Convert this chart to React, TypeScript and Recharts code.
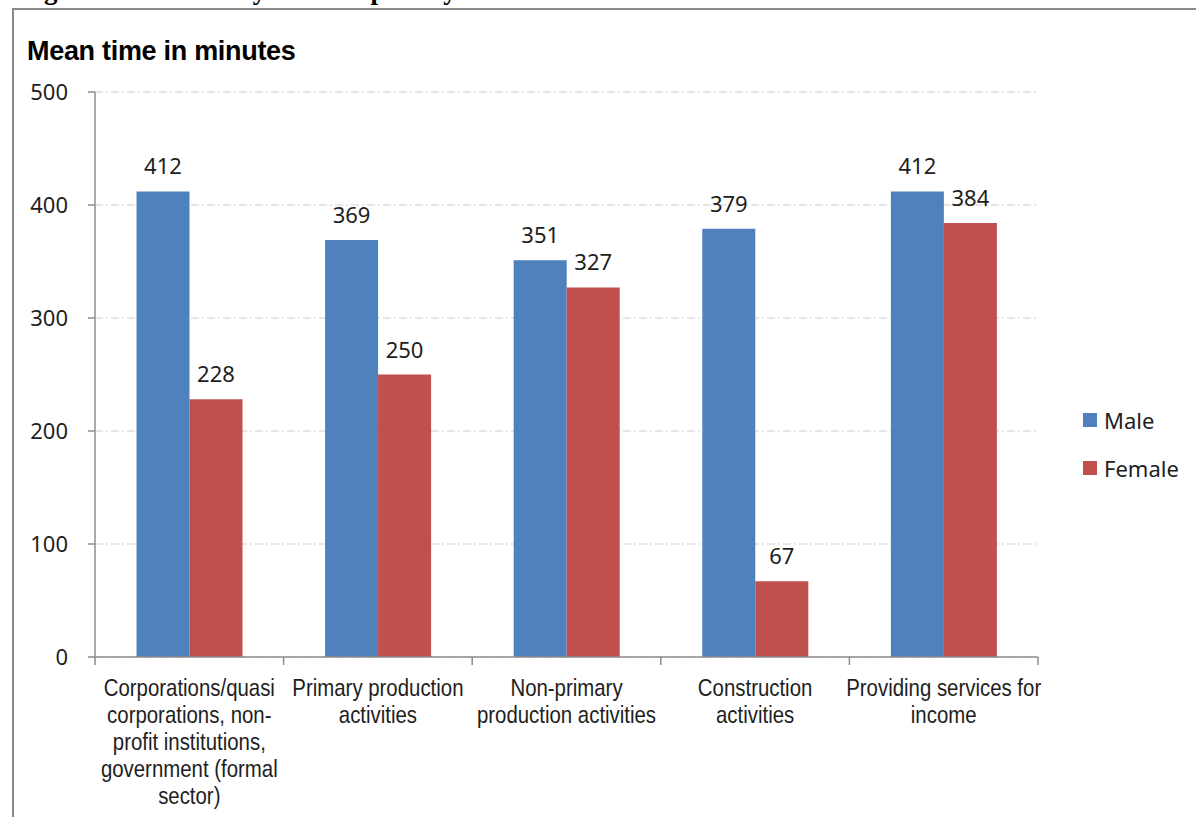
import React from 'react';
import { BarChart, Bar, XAxis, YAxis, CartesianGrid, LabelList } from 'recharts';

// Mean time in minutes, by sector of SNA work
const categories = [
  ['Corporations/quasi', 'corporations, non-', 'profit institutions,', 'government (formal', 'sector)'],
  ['Primary production', 'activities'],
  ['Non-primary', 'production activities'],
  ['Construction', 'activities'],
  ['Providing services for', 'income'],
];
const male = [412, 369, 351, 379, 412];
const female = [228, 250, 327, 67, 384];
const yTicks = [0, 100, 200, 300, 400, 500];

const MALE_COLOR = '#4F81BD';
const FEMALE_COLOR = '#C0504D';
const AXIS_COLOR = '#8c8c8c';
const TEXT_COLOR = '#1e1e1e';
const NUM_FONT = '"Noto Sans", sans-serif';
const NARROW_FONT = '"Liberation Sans", Arial, sans-serif';

const W = 1196;
const H = 817;
const MARGIN = { top: 92, right: 158, left: 35, bottom: 10 };
const Y_AXIS_W = 60;
const PLOT_W = W - MARGIN.left - Y_AXIS_W - MARGIN.right;
const HALF_BAND = PLOT_W / categories.length / 2;

const data = categories.map((lines, i) => ({
  name: lines.join(' '),
  Male: male[i],
  Female: female[i],
}));

// category label (squeezed to a narrow face) plus tick marks on the band edges
const CategoryTick = (props: any) => {
  const { x, y, index } = props;
  const lines: string[] = categories[index] || [];
  const axisY = y - 8;
  return (
    <g>
      <line x1={x - HALF_BAND} x2={x - HALF_BAND} y1={axisY} y2={axisY + 8} stroke={AXIS_COLOR} strokeWidth={1.5} />
      {index === categories.length - 1 && (
        <line x1={x + HALF_BAND} x2={x + HALF_BAND} y1={axisY} y2={axisY + 8} stroke={AXIS_COLOR} strokeWidth={1.5} />
      )}
      <g transform={`translate(${x},${axisY + 39}) scale(0.85,1)`}>
        <text x={0} y={0} textAnchor="middle" fill={TEXT_COLOR} fontFamily={NARROW_FONT} fontSize={24}>
          {lines.map((l, k) => (
            <tspan key={k} x={0} dy={k === 0 ? 0 : 27}>
              {l}
            </tspan>
          ))}
        </text>
      </g>
    </g>
  );
};

const legendItems = [
  ['Male', MALE_COLOR],
  ['Female', FEMALE_COLOR],
];

export default function App() {
  return (
    <div style={{ position: 'absolute', left: 0, top: 0, width: W, height: H, overflow: 'hidden', background: '#fff' }}>
      {/* caption above the framed chart, mostly cut off */}
      <div style={{ position: 'absolute', left: 0, top: 0, width: W, height: 8, overflow: 'hidden' }}>
        <div
          style={{
            position: 'absolute',
            left: 20,
            top: -25,
            fontFamily: '"Liberation Serif", serif',
            fontWeight: 'bold',
            fontSize: 27,
            whiteSpace: 'nowrap',
            color: '#000',
          }}
        >
          Figure 6.3: Summary of time spent by actors involved in SNA work
        </div>
      </div>
      <div
        style={{
          position: 'absolute',
          left: 12,
          top: 8,
          width: W,
          height: H,
          borderLeft: '2px solid #8a8a8a',
          borderTop: '2px solid #8a8a8a',
        }}
      />
      <div
        style={{
          position: 'absolute',
          left: 27,
          top: 36,
          fontFamily: '"Liberation Sans", Arial, sans-serif',
          fontWeight: 'bold',
          fontSize: 27,
          letterSpacing: -0.3,
          color: '#000',
        }}
      >
        Mean time in minutes
      </div>
      <div style={{ position: 'absolute', left: 0, top: 0 }}>
        <BarChart width={W} height={H} data={data} margin={MARGIN} barCategoryGap="22%" barGap={0}>
          <CartesianGrid vertical={false} stroke="#cfcfcf" strokeDasharray="8 3 2 3" />
          <XAxis
            dataKey="name"
            interval={0}
            height={H - MARGIN.top - MARGIN.bottom - 565}
            axisLine={{ stroke: AXIS_COLOR, strokeWidth: 1.5 }}
            tickLine={false}
            tickSize={8}
            tickMargin={0}
            tick={<CategoryTick />}
          />
          <YAxis
            width={Y_AXIS_W}
            domain={[0, 500]}
            ticks={yTicks}
            interval={0}
            tickSize={7}
            tickMargin={20}
            axisLine={{ stroke: AXIS_COLOR, strokeWidth: 1.5 }}
            tickLine={{ stroke: AXIS_COLOR, strokeWidth: 1.5 }}
            tick={{ fill: TEXT_COLOR, fontSize: 22, fontFamily: NUM_FONT }}
          />
          <Bar dataKey="Male" fill={MALE_COLOR} isAnimationActive={false}>
            <LabelList dataKey="Male" position="top" offset={17} fill={TEXT_COLOR} fontSize={22} fontFamily={NUM_FONT} />
          </Bar>
          <Bar dataKey="Female" fill={FEMALE_COLOR} isAnimationActive={false}>
            <LabelList dataKey="Female" position="top" offset={17} fill={TEXT_COLOR} fontSize={22} fontFamily={NUM_FONT} />
          </Bar>
        </BarChart>
      </div>
      <div
        style={{
          position: 'absolute',
          left: 1083,
          top: 396,
          fontFamily: NUM_FONT,
          fontSize: 22,
          color: TEXT_COLOR,
        }}
      >
        {legendItems.map(([label, color]) => (
          <div key={label} style={{ display: 'flex', alignItems: 'center', height: 48 }}>
            <span style={{ width: 14, height: 14, background: color, marginRight: 7, display: 'inline-block' }} />
            <span>{label}</span>
          </div>
        ))}
      </div>
    </div>
  );
}
